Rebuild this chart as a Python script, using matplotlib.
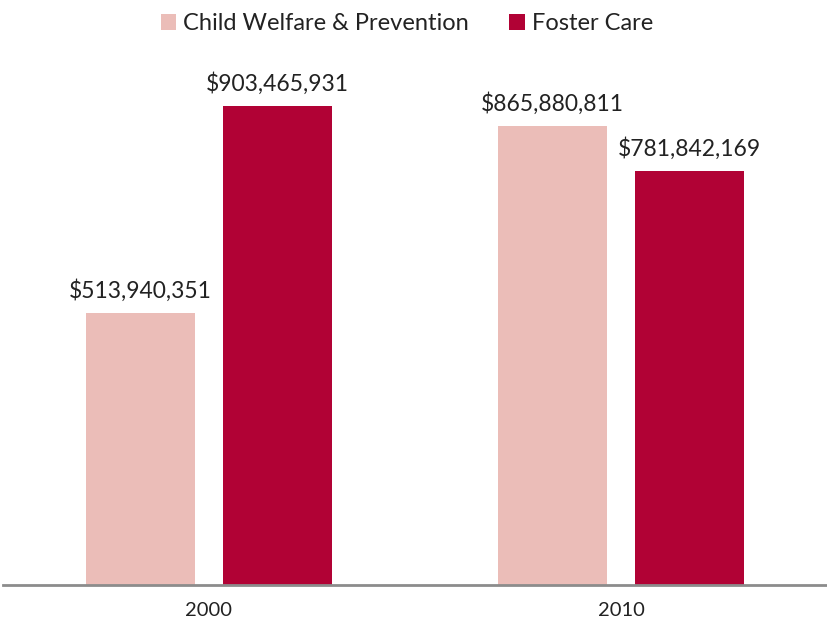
import matplotlib
matplotlib.use("Agg")
import matplotlib.pyplot as plt
import numpy as np

years = ["2000", "2010"]
child_welfare = [513940351, 865880811]
foster_care = [903465931, 781842169]

PINK = "#EBBDB8"
RED = "#B10235"
TEXT = "#222222"

plt.rcParams["font.family"] = ["Lato", "DejaVu Sans"]

fig = plt.figure(figsize=(8.27, 6.27), dpi=100)
ax = fig.add_axes([3 / 827, 1 - 585 / 627, 1 - 3 / 827, 530 / 627])

x = np.arange(len(years))
w = 0.266
off = 0.166
b1 = ax.bar(x - off, child_welfare, w, color=PINK, label="Child Welfare & Prevention")
b2 = ax.bar(x + off, foster_care, w, color=RED, label="Foster Care")

for bars, vals in ((b1, child_welfare), (b2, foster_care)):
    ax.bar_label(bars, labels=[f"${v:,.0f}" for v in vals], padding=8,
                 fontsize=16.5, color=TEXT)

ax.set_xlim(-0.5, 1.5)
ax.set_ylim(0, 1.0e9)
ax.set_xticks(x)
ax.set_xticklabels(years, fontsize=14.5, color=TEXT)
ax.tick_params(axis="x", length=0, pad=12)
ax.set_yticks([])
for s in ("top", "right", "left"):
    ax.spines[s].set_visible(False)
ax.spines["bottom"].set_color("#8C8C8C")
ax.spines["bottom"].set_linewidth(2)

fig.legend(handles=[b1, b2], loc="center", bbox_to_anchor=(0.492, 1 - 24 / 627),
           ncol=2, frameon=False, fontsize=17, handlelength=0.65, handleheight=0.65,
           handletextpad=0.3, columnspacing=1.7, labelcolor=TEXT)

fig.savefig("out.png", dpi=100)
